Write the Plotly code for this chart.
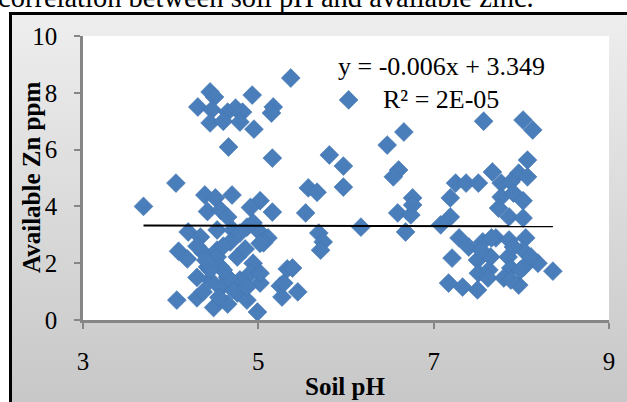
import base64
import plotly.graph_objects as go

# ---- data ----
soil_ph = [
    4.45, 4.50, 4.31, 4.47, 4.93, 5.37, 5.17, 5.15, 4.65, 4.74, 4.82, 4.45, 4.60, 4.79, 4.95, 4.66, 5.16,
    4.06, 3.69, 4.39, 4.51, 4.70, 5.02, 4.42, 4.57, 4.65, 4.91, 5.16, 5.54, 5.57, 5.67,
    4.20, 4.34, 4.53, 4.71, 4.87, 4.94, 5.02, 5.11, 5.06, 4.68, 4.79, 4.09, 4.19, 4.37, 4.53, 4.76,
    4.94, 4.53, 4.42, 4.57, 4.65, 4.79, 5.02, 5.25, 5.33, 5.45, 5.27, 4.07, 4.30, 4.37, 4.49, 4.65,
    4.76, 4.87, 4.99, 4.57, 4.45, 4.91, 4.71, 4.66, 4.87, 5.02, 4.60, 4.45, 4.30, 4.40, 4.60, 4.85,
    4.30, 4.55,
    6.03, 6.66, 6.47, 5.81, 5.97, 6.60, 6.54, 5.97, 6.76, 5.69, 5.74, 5.71, 6.17, 6.59, 6.76, 6.74,
    6.68, 5.39, 5.29, 5.02,
    7.57, 8.02, 8.13, 8.07, 7.67, 7.97, 7.25, 7.37, 7.51, 7.77, 7.88, 8.07, 7.19, 7.77, 7.91, 8.02,
    7.19, 7.08, 7.74, 7.86, 8.02,
    7.29, 7.40, 7.21, 7.56, 7.71, 7.86, 8.05, 7.50, 7.65, 7.85, 8.02, 8.19, 8.36, 7.51, 7.63, 7.88,
    8.03, 7.17, 7.33, 7.50, 7.62, 7.80, 7.97, 7.54, 7.91, 8.11, 7.99, 7.88, 7.66,
]
zinc_ppm = [
    8.03, 7.85, 7.50, 7.40, 7.92, 8.52, 7.50, 7.29, 7.32, 7.46, 7.32, 6.94, 7.00, 6.97, 6.72, 6.09, 5.70,
    4.82, 4.00, 4.40, 4.30, 4.40, 4.20, 3.82, 3.87, 3.63, 3.96, 3.80, 3.77, 4.65, 4.50,
    3.10, 2.92, 3.17, 3.17, 3.27, 3.42, 3.08, 2.89, 2.72, 2.75, 3.06, 2.42, 2.15, 2.37, 2.46, 2.22,
    2.00, 2.22, 1.87, 1.87, 1.51, 1.41, 1.30, 1.20, 1.80, 0.99, 0.81, 0.70, 0.78, 0.99, 0.44, 0.56,
    0.95, 0.70, 0.28, 1.13, 1.41, 1.65, 1.06, 1.48, 1.16, 2.70, 1.76, 1.76, 2.60, 2.10, 2.60, 2.50,
    1.50, 0.80,
    7.75, 6.62, 6.16, 5.81, 5.42, 5.28, 5.04, 4.68, 4.30, 3.06, 2.75, 2.46, 3.27, 3.77, 4.05, 3.70,
    3.10, 1.83, 1.30, 1.65,
    7.00, 7.04, 6.69, 5.63, 5.21, 5.17, 4.82, 4.82, 4.82, 4.82, 4.86, 5.04, 4.30, 4.33, 4.47, 4.20,
    3.63, 3.35, 3.94, 3.63, 3.59,
    2.89, 2.57, 2.18, 2.75, 2.89, 2.82, 2.89, 2.11, 2.22, 2.22, 2.46, 2.00, 1.72, 1.65, 1.76, 1.83,
    1.87, 1.30, 1.16, 1.06, 1.48, 1.48, 1.23, 2.46, 2.57, 2.22, 1.76, 1.41, 2.89,
]

trend_slope = -0.006
trend_intercept = 3.349
equation_text = "y = -0.006x + 3.349"
r2_text = "R² = 2E-05"
title_text = "correlation between soil pH and available zinc."
x_title = "Soil pH"
y_title = "Available Zn ppm"

x_ticks = [3, 5, 7, 9]
y_ticks = [0, 2, 4, 6, 8, 10]

# ---- geometry helpers (pixel -> paper) ----
W, H = 627, 402
L, R, T, B = 83, 609, 36, 320


def px(x):
    return (x - L) / (R - L)


def py(y):
    return (B - y) / (B - T)


# chart-area background (gradient, frame, white plot area) as an SVG image
bg_svg = (
    f'<svg xmlns="http://www.w3.org/2000/svg" width="{W}" height="{H}" viewBox="0 0 {W} {H}" '
    'preserveAspectRatio="none">'
    '<defs><linearGradient id="g" x1="0" y1="0" x2="0" y2="1">'
    '<stop offset="0" stop-color="#eeeeee"/><stop offset="1" stop-color="#c3c3c3"/>'
    '</linearGradient></defs>'
    f'<rect x="0" y="0" width="{W}" height="{H}" fill="#ffffff"/>'
    '<rect x="10.5" y="13.5" width="660" height="430" fill="url(#g)" stroke="#000000" stroke-width="3"/>'
    f'<rect x="{L}" y="{T}" width="{R - L}" height="{B - T}" fill="#ffffff"/>'
    '</svg>'
)
bg_uri = "data:image/svg+xml;base64," + base64.b64encode(bg_svg.encode()).decode()

fig = go.Figure()

fig.add_trace(go.Scatter(
    x=soil_ph, y=zinc_ppm, mode="markers",
    marker=dict(symbol="diamond", size=14.5, color="#4a7ebb",
                line=dict(color="#4274b0", width=0.6)),
    showlegend=False, hoverinfo="x+y",
))

x_min, x_max = min(soil_ph), max(soil_ph)
fig.add_trace(go.Scatter(
    x=[x_min, x_max],
    y=[trend_slope * x_min + trend_intercept, trend_slope * x_max + trend_intercept],
    mode="lines", line=dict(color="black", width=2), showlegend=False, hoverinfo="skip",
))

font_serif = "Liberation Serif"

annotations = [
    dict(text=title_text, xref="paper", yref="paper",
         x=px(-4), y=py(-3), xanchor="left", yanchor="middle", showarrow=False,
         font=dict(family=font_serif, size=28.5, color="black")),
    dict(text=equation_text, xref="paper", yref="paper", x=px(441), y=py(67),
         xanchor="center", yanchor="middle", showarrow=False,
         font=dict(family=font_serif, size=26, color="black")),
    dict(text=r2_text, xref="paper", yref="paper", x=px(441), y=py(99),
         xanchor="center", yanchor="middle", showarrow=False,
         font=dict(family=font_serif, size=26, color="black")),
    dict(text=f"<b>{x_title}</b>", xref="paper", yref="paper", x=px(345), y=py(386),
         xanchor="center", yanchor="middle", showarrow=False,
         font=dict(family=font_serif, size=25, color="black")),
    dict(text=f"<b>{y_title}</b>", xref="paper", yref="paper", x=px(31), y=py(178),
         xanchor="center", yanchor="middle", showarrow=False, textangle=-90,
         font=dict(family=font_serif, size=25, color="black")),
]

fig.update_layout(
    width=W, height=H,
    margin=dict(l=L, r=W - R, t=T, b=H - B, pad=0),
    paper_bgcolor="white", plot_bgcolor="white",
    images=[dict(source=bg_uri, xref="paper", yref="paper", x=px(0), y=py(0),
                 sizex=px(W) - px(0), sizey=py(0) - py(H), xanchor="left", yanchor="top",
                 sizing="stretch", layer="below")],
    annotations=annotations,
    font=dict(family=font_serif, size=25, color="black"),
    xaxis=dict(range=[3, 9], tickvals=x_ticks, ticks="outside", ticklen=6, tickcolor="#868686",
               tickwidth=2, showline=True, linecolor="#868686", linewidth=2.5, showgrid=False,
               zeroline=False, ticklabelstandoff=11,
               tickfont=dict(family=font_serif, size=25), fixedrange=True),
    yaxis=dict(range=[0, 10], tickvals=y_ticks, ticks="outside", ticklen=6, tickcolor="#868686",
               tickwidth=2, showline=True, linecolor="#868686", linewidth=2.5, showgrid=False,
               zeroline=False, ticklabelstandoff=12,
               tickfont=dict(family=font_serif, size=25), fixedrange=True),
)

fig.write_html("out.html")
